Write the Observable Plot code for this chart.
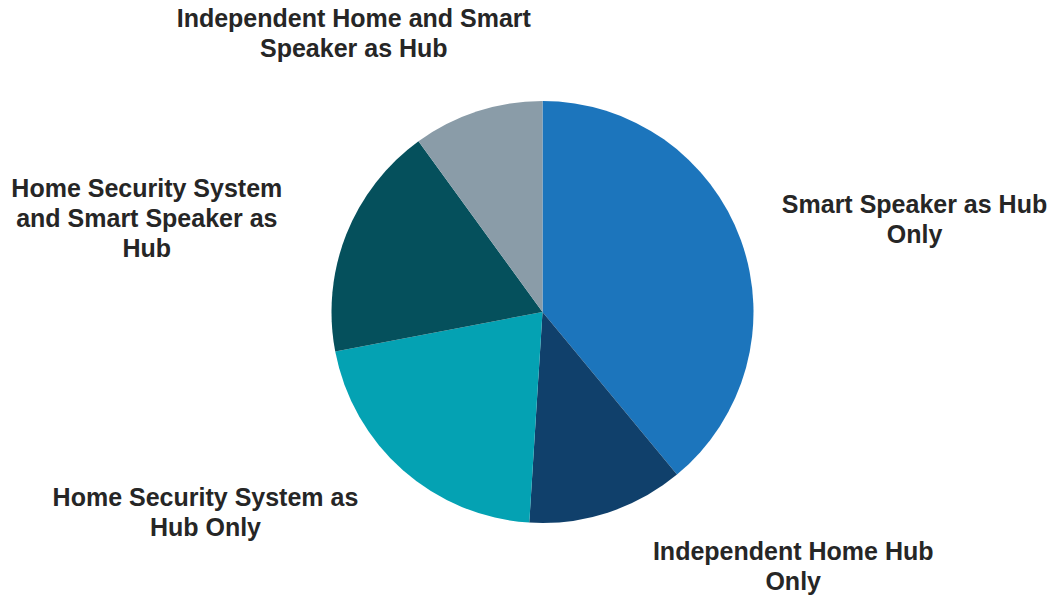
<!DOCTYPE html>
<html><head><meta charset="utf-8">
<script src="https://cdn.jsdelivr.net/npm/d3@7"></script>
<script src="https://cdn.jsdelivr.net/npm/@observablehq/plot@0.6"></script>
<style>html,body{margin:0;padding:0;background:#fff;} #chart svg{display:block;}</style>
</head><body><div id="chart"></div>
<script>
// ---- data ----
const categories = [
  "Smart Speaker as Hub Only",
  "Independent Home Hub Only",
  "Home Security System as Hub Only",
  "Home Security System and Smart Speaker as Hub",
  "Independent Home and Smart Speaker as Hub"
];
const shares = [39, 12, 21, 18, 10];
const labelLines = [
  "Smart Speaker as Hub\nOnly",
  "Independent Home Hub\nOnly",
  "Home Security System as\nHub Only",
  "Home Security System\nand Smart Speaker as\nHub",
  "Independent Home and Smart\nSpeaker as Hub"
];
const colors = ["#1c75bc", "#10406b", "#04a2b3", "#05505c", "#8a9ca8"];

// ---- layout ----
const W = 1051, H = 596, R = 211, cx = 542.5, cy = 312;
const labelNudge = [[173, -23], [185, 52], [-198, 41], [-200, -17], [-124, -79]]; // px from slice outer midpoint

const data = categories.map((c, i) => ({category: c, share: shares[i], label: labelLines[i]}));
const arcs = d3.pie().sort(null).value(d => d.share)(data);
const color = Plot.scale({color: {type: "ordinal", domain: categories, range: colors}});

const labels = arcs.map((a, i) => {
  const m = (a.startAngle + a.endAngle) / 2;
  return {
    label: a.data.label,
    x: Math.sin(m) + labelNudge[i][0] / R,
    y: Math.cos(m) - labelNudge[i][1] / R
  };
});

function pieMark(index, scales) {
  const x0 = scales.x(0), y0 = scales.y(0), r = scales.x(1) - scales.x(0);
  const arc = d3.arc().innerRadius(0).outerRadius(r);
  const g = d3.create("svg:g").attr("transform", `translate(${x0},${y0})`);
  g.selectAll("path").data(arcs).join("path")
    .attr("d", arc)
    .attr("fill", d => color.apply(d.data.category));
  return g.node();
}

const chart = Plot.plot({
  width: W, height: H, margin: 0,
  x: {domain: [-cx / R, (W - cx) / R], axis: null},
  y: {domain: [-(H - cy) / R, cy / R], axis: null},
  marks: [
    pieMark,
    Plot.text(labels, {
      x: "x", y: "y", text: "label",
      fontSize: 25, fontWeight: "bold", lineHeight: 1.2,
      fontFamily: "Liberation Sans, Arial, sans-serif",
      fill: "#262626", textAnchor: "middle", lineAnchor: "middle"
    })
  ]
});
document.getElementById("chart").appendChild(chart);
</script>
</body></html>
